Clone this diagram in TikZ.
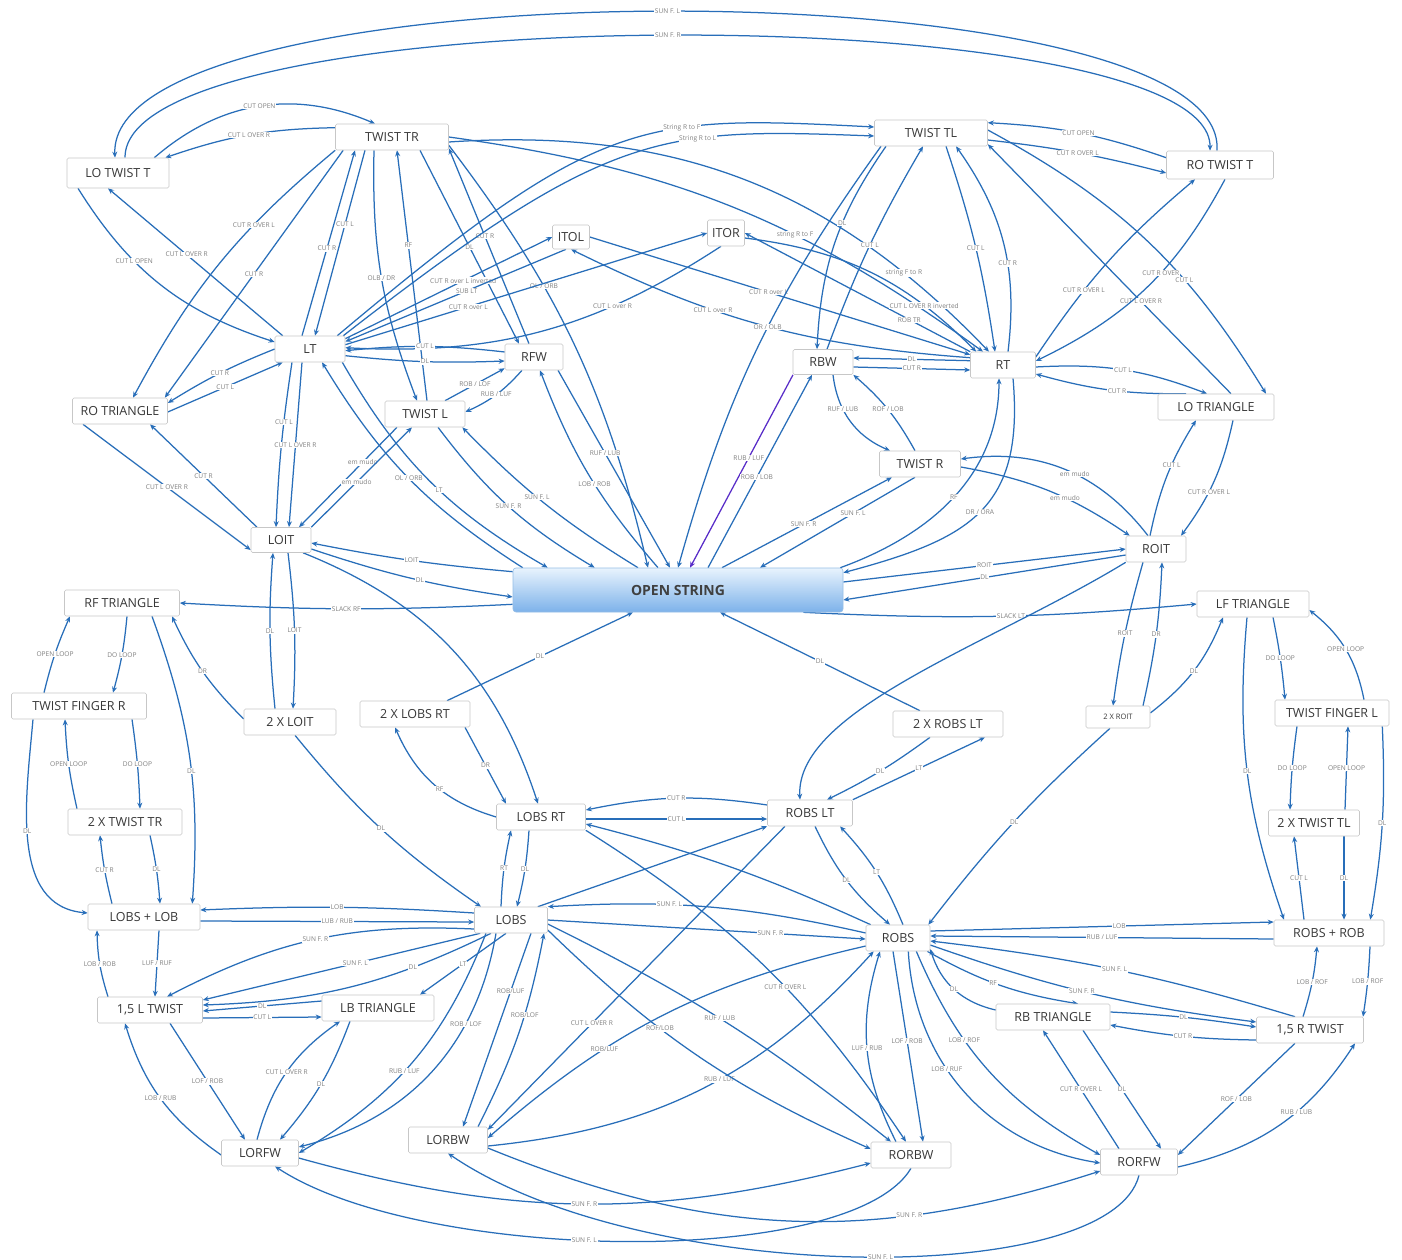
\documentclass[tikz,border=0pt]{standalone}
\usepackage{fontspec}
\usetikzlibrary{arrows.meta}
\newfontfamily\osans{Open Sans}
\newcommand\ndfont{\osans\fontsize{12.5}{13}\selectfont}
\newcommand\smfont{\osans\fontsize{7.5}{8}\selectfont}
\newcommand\lbfont{\osans\fontsize{6.6}{7}\selectfont}
\newcommand\osfont{\osans\bfseries\fontsize{14}{15}\selectfont}
\definecolor{eblue}{RGB}{40,110,185}
\definecolor{purp}{RGB}{88,44,200}
\definecolor{ostop}{RGB}{232,243,253}
\definecolor{osbot}{RGB}{125,178,234}
\definecolor{osedge}{RGB}{150,190,230}
\pgfdeclarelayer{bgfill}
\pgfdeclarelayer{edges}
\pgfsetlayers{bgfill,edges,main}
\tikzset{
 nd/.style={draw=black!22, line width=0.6pt, fill=white, rounded corners=1.5pt, font=\ndfont, text=black!78, inner sep=0pt, minimum height=26pt},
 osn/.style={draw=osedge, line width=0.6pt, rounded corners=3pt, top color=ostop, bottom color=osbot, minimum width=330pt, minimum height=44pt, font=\osfont, text=black!75, inner sep=0pt},
 e/.style={draw=eblue, line width=1.25pt, -{Stealth[length=6pt,width=5pt]}},
 l/.style={font=\lbfont, text=black!50, fill=white, inner sep=0.7pt},
}
\begin{document}
\begin{tikzpicture}[x=1pt,y=1pt]
\useasboundingbox (0,0) rectangle (1402,-1260);
\begin{pgfonlayer}{bgfill}
\fill[white] (0,0) rectangle (1402,-1260);
\end{pgfonlayer}
% nodes
\node[nd,minimum width=102pt,minimum height=30pt] (lott) at (118,-173) {LO TWIST T};
\node[nd,minimum width=113pt] (twtr) at (392,-137) {TWIST TR};
\node[nd,minimum width=113pt] (twtl) at (931,-133) {TWIST TL};
\node[nd,minimum width=107pt,minimum height=28pt] (rott) at (1220,-165) {RO TWIST T};
\node[nd,minimum width=37pt,minimum height=24pt] (itol) at (571,-237) {ITOL};
\node[nd,minimum width=37pt] (itor) at (726,-233) {ITOR};
\node[nd,minimum width=70pt] (lt) at (310,-349) {LT};
\node[nd,minimum width=58pt] (rfw) at (534,-357) {RFW};
\node[nd,minimum width=60pt,minimum height=25pt] (rbw) at (823,-362) {RBW};
\node[nd,minimum width=65pt] (rt) at (1003,-365) {RT};
\node[nd,minimum width=95pt] (rotri) at (120,-411) {RO TRIANGLE};
\node[nd,minimum width=116pt] (lotri) at (1216,-407) {LO TRIANGLE};
\node[nd,minimum width=80pt] (twl) at (425,-414) {TWIST L};
\node[nd,minimum width=81pt] (twr) at (920,-464) {TWIST R};
\node[nd,minimum width=60pt,minimum height=25pt] (loit) at (281,-540) {LOIT};
\node[nd,minimum width=60pt] (roit) at (1156,-549) {ROIT};
\node[osn] (os) at (678,-590) {OPEN STRING};
\node[nd,minimum width=115pt] (rftri) at (122,-603) {RF TRIANGLE};
\node[nd,minimum width=112pt] (lftri) at (1253,-604) {LF TRIANGLE};
\node[nd,minimum width=135pt] (twfr) at (79,-706) {TWIST FINGER R};
\node[nd,minimum width=92pt] (x2loit) at (290,-722) {2 X LOIT};
\node[nd,minimum width=110pt] (x2lobsrt) at (415,-714) {2 X LOBS RT};
\node[nd,minimum width=110pt] (x2robslt) at (948,-724) {2 X ROBS LT};
\node[nd,minimum width=64pt,minimum height=22pt,font=\smfont] (x2roit) at (1118,-717) {2 X ROIT};
\node[nd,minimum width=114pt] (twfl) at (1332,-713) {TWIST FINGER L};
\node[nd,minimum width=89pt] (lobsrt) at (541,-817) {LOBS RT};
\node[nd,minimum width=85pt] (robslt) at (810,-813) {ROBS LT};
\node[nd,minimum width=114pt] (x2twtr) at (125,-822) {2 X TWIST TR};
\node[nd,minimum width=91pt] (x2twtl) at (1314,-823) {2 X TWIST TL};
\node[nd,minimum width=112pt] (lobslob) at (144,-917) {LOBS + LOB};
\node[nd,minimum width=73pt] (lobs) at (511,-920) {LOBS};
\node[nd,minimum width=64pt] (robs) at (898,-938) {ROBS};
\node[nd,minimum width=110pt] (robsrob) at (1329,-933) {ROBS + ROB};
\node[nd,minimum width=105pt] (ltw) at (150,-1010) {1,5 L TWIST};
\node[nd,minimum width=112pt] (lbtri) at (378,-1008) {LB TRIANGLE};
\node[nd,minimum width=114pt] (rbtri) at (1053,-1017) {RB TRIANGLE};
\node[nd,minimum width=107pt] (rtw) at (1310,-1030) {1,5 R TWIST};
\node[nd,minimum width=77pt] (lorfw) at (260,-1153) {LORFW};
\node[nd,minimum width=79pt] (lorbw) at (448,-1140) {LORBW};
\node[nd,minimum width=80pt] (rorbw) at (911,-1155) {RORBW};
\node[nd,minimum width=77pt] (rorfw) at (1139,-1162) {RORFW};

\begin{pgfonlayer}{edges}
% top arcs
\draw[e] ([xshift=-3pt]rott.north) .. controls (1230,36) and (106,36) .. ([xshift=-3pt]lott.north) node[l,pos=0.5]{SUN F. L};
\draw[e] ([xshift=7pt]lott.north) .. controls (124,4) and (1212,4) .. ([xshift=-10pt]rott.north) node[l,pos=0.5]{SUN F. R};
\draw[e] ([xshift=-15pt]lott.north east) to[bend left=32] node[l]{CUT OPEN} ([xshift=-17pt]twtr.north);
\draw[e] ([yshift=-4pt]twtr.north west) to[bend right=9] node[l]{CUT L OVER R} ([xshift=-4pt]lott.north east);
\draw[e] ([yshift=-7pt]rott.north west) to[bend right=8] node[l]{CUT OPEN} ([yshift=-3pt]twtl.north east);
\draw[e] ([yshift=-7pt]twtl.east) to[bend left=4] node[l]{CUT R OVER L} ([yshift=-8pt]rott.west);
\draw[e] ([xshift=-40pt]lott.south) to[bend right=20] node[l,pos=0.35]{CUT L OPEN} ([yshift=7pt]lt.west);
\draw[e] ([xshift=8pt]lt.north west) -- node[l,pos=0.55]{CUT L OVER R} ([xshift=-10pt]lott.south);
\draw[e] (twtr.south west) to[bend right=11] node[l,pos=0.33]{CUT R OVER L} ([xshift=13pt]rotri.north);
\draw[e] ([xshift=8pt]twtr.south west) -- node[l]{CUT R} ([xshift=-3pt]rotri.north east);
\draw[e] (lt.west) to[bend right=5] node[l]{CUT R} ([yshift=8pt]rotri.east);
\draw[e] ([yshift=-1pt]rotri.east) -- node[l]{CUT L} ([xshift=8pt]lt.south west);
\draw[e] ([xshift=-27pt]twtr.south) -- node[l,pos=0.4]{CUT L} ([xshift=5pt]lt.north);
\draw[e] ([xshift=-8pt]lt.north) -- node[l,pos=0.47]{CUT R} ([xshift=-37pt]twtr.south);
\draw[e] ([xshift=-18pt]twtr.south) to[bend right=11] node[l]{OLB / DR} ([xshift=-8pt]twl.north);
\draw[e] ([xshift=2pt]twl.north) -- node[l,pos=0.62]{RF} ([xshift=5pt]twtr.south);
\draw[e] ([xshift=28pt]twtr.south) -- node[l]{DL} ([xshift=-15pt]rfw.north);
\draw[e] ([xshift=-5pt]rfw.north) -- node[l,pos=0.55]{CUT R} ([yshift=2pt]twtr.south east);
\draw[e] ([yshift=5pt]twtr.south east) to[bend left=12] node[l,pos=0.35]{OL / ORB} ([xshift=-30pt]os.north);
\draw[e] ([xshift=-8pt]lt.north east) .. controls (600,-115) and (640,-115) .. ([yshift=6pt]twtl.west) node[l,pos=0.65]{String R to F};
\draw[e] ([xshift=-2pt]lt.north east) .. controls (610,-128) and (660,-128) .. ([yshift=-3pt]twtl.west) node[l,pos=0.66]{String R to L};
\draw[e] (twtr.east) to[bend left=14] node[l,pos=0.63]{string R to F} ([xshift=-20pt]rt.north);
\draw[e] ([yshift=-5pt]twtr.east) to[bend left=25] node[l,pos=0.82]{string F to R} ([xshift=-14pt]rt.north);
% ITOL / ITOR
\draw[e] ([yshift=-3pt]lt.north east) -- node[l,pos=0.57]{CUT R over L inverted} (itol.west);
\draw[e] ([xshift=-5pt]itol.south) -- node[l,pos=0.45]{SUB LT} ([yshift=-6pt]lt.north east);
\draw[e] ([yshift=-9pt]lt.north east) -- node[l,pos=0.34]{CUT R over L} (itor.west);
\draw[e] ([xshift=-5pt]itor.south) to[bend left=18] node[l,pos=0.3]{CUT L over R} ([yshift=-12pt]lt.north east);
\draw[e] (itol.east) -- node[l,pos=0.47]{CUT R over L} ([yshift=-3pt]rt.north west);
\draw[e] ([yshift=-6pt]rt.north west) to[bend left=11] node[l,pos=0.64]{CUT L over R} (itol.south);
\draw[e] (rt.north west) -- node[l,pos=0.27]{ROB TR} (itor.east);
\draw[e] ([yshift=-5pt]itor.east) to[bend left=19] node[l,pos=0.75]{CUT L OVER R inverted} ([xshift=6pt]rt.north west);
% TWIST TL area
\draw[e] ([xshift=-45pt]twtl.south) to[bend right=16] node[l,pos=0.4]{DL} ([xshift=-6pt]rbw.north);
\draw[e] ([xshift=4pt]rbw.north) to[bend left=5] node[l]{CUT L} ([xshift=-8pt]twtl.south);
\draw[e] ([xshift=-50pt]twtl.south) to[bend right=10] node[l,pos=0.45]{OR / OLB} (os.north);
\draw[e,draw=purp] ([xshift=-30pt]rbw.south) -- node[l,pos=0.43]{RUB / LUF} ([xshift=12pt]os.north);
\draw[e] ([xshift=30pt]os.north) -- node[l,pos=0.47]{ROB / LOB} ([xshift=-11pt]rbw.south);
\draw[e] ([xshift=15pt]twtl.south) to[bend left=5] node[l]{CUT L} ([xshift=-8pt]rt.north);
\draw[e] ([xshift=5pt]rt.north) to[bend right=21] node[l,pos=0.4]{CUT R} ([xshift=25pt]twtl.south);
\draw[e] ([xshift=15pt]lotri.north) -- node[l,pos=0.37]{CUT L OVER R} ([yshift=2pt]twtl.south east);
\draw[e] ([yshift=3pt]twtl.east) to[bend left=15] node[l,pos=0.65]{CUT L} ([xshift=50pt]lotri.north);
\draw[e] ([yshift=8pt]rt.east) to[bend left=8] node[l,pos=0.33]{CUT R OVER L} ([xshift=-25pt]rott.south);
\draw[e] ([xshift=5pt]rott.south) to[bend left=18] node[l,pos=0.42]{CUT R OVER} ([yshift=4pt]rt.east);
\draw[e] ([yshift=-2pt]rt.east) to[bend left=12] node[l]{CUT L} ([xshift=-9pt]lotri.north);
\draw[e] ([xshift=-30pt]lotri.north) to[bend left=8] node[l,pos=0.45]{CUT R} ([yshift=-9pt]rt.east);
\draw[e] ([yshift=-9pt]rt.north west) -- node[l]{DL} ([yshift=4pt]rbw.east);
\draw[e] ([yshift=-5pt]rbw.east) -- node[l]{CUT R} ([yshift=-5pt]rt.west);
\draw[e] ([xshift=-6pt]roit.north) to[bend left=10] node[l,pos=0.6]{CUT L} ([xshift=-20pt]lotri.south);
\draw[e] ([xshift=17pt]lotri.south) to[bend left=12] node[l,pos=0.6]{CUT R OVER L} ([xshift=25pt]roit.north);
\draw[e] ([xshift=-8pt]roit.north) to[bend right=30] node[l,pos=0.45]{em mudo} ([yshift=5pt]twr.east);
\draw[e] ([yshift=-3pt]twr.east) to[bend left=12] node[l,pos=0.6]{em mudo} ([xshift=4pt]roit.north west);
\draw[e] ([xshift=-3pt]os.north east) to[out=20,in=-90] node[l]{RF} ([xshift=-4pt]rt.south);
\draw[e] ([xshift=10pt]rt.south) to[out=-85,in=15,looseness=1.3] node[l]{DR / ORA} ([yshift=-5pt]os.north east);
\draw[e] ([xshift=44pt]os.north) -- node[l,pos=0.48]{SUN F. R} ([xshift=-28pt]twr.south);
\draw[e] ([xshift=-5pt]twr.south) -- node[l,pos=0.4]{SUN F. L} ([xshift=82pt]os.north);
\draw[e] ([xshift=10pt]rbw.south) to[bend right=30] node[l,pos=0.35]{RUF / LUB} ([xshift=-30pt]twr.north);
\draw[e] ([xshift=-5pt]twr.north) to[bend right=10] node[l]{ROF / LOB} (rbw.south east);
% RFW / LT / TWIST L
\draw[e] ([xshift=-20pt]os.north) to[bend left=10] node[l,pos=0.45]{LOB / ROB} ([xshift=6pt]rfw.south);
\draw[e] ([xshift=24pt]rfw.south) -- node[l,pos=0.42]{RUF / LUB} ([xshift=-8pt]os.north);
\draw[e] ([yshift=5pt]rfw.west) to[bend right=6] node[l]{CUT L} ([yshift=-15pt]lt.north east);
\draw[e] ([yshift=-20pt]lt.north east) to[bend right=4] node[l]{DL} ([yshift=-4pt]rfw.west);
\draw[e] ([xshift=20pt]twl.north) -- node[l]{ROB / LOF} ([yshift=2pt]rfw.south west);
\draw[e] ([xshift=-12pt]rfw.south) to[bend left=12] node[l]{RUB / LUF} ([yshift=2pt]twl.east);
\draw[e] ([xshift=10pt]os.north west) to[bend left=13] node[l,pos=0.5]{OL / ORB} ([xshift=12pt]lt.south);
\draw[e] ([xshift=-3pt]lt.south east) to[bend right=15] node[l,pos=0.55]{LT} ([xshift=35pt]os.north west);
\draw[e] ([xshift=13pt]twl.south) to[bend right=11] node[l]{SUN F. R} ([xshift=82pt]os.north west);
\draw[e] ([xshift=-40pt]os.north) to[bend left=7] node[l,pos=0.55]{SUN F. L} ([xshift=-3pt]twl.south east);
% LOIT / ROIT
\draw[e] ([yshift=-4pt]os.north west) to[bend left=3] node[l]{LOIT} ([yshift=-3pt]loit.east);
\draw[e] ([yshift=-9pt]loit.east) to[bend right=5] node[l,pos=0.55]{DL} ([yshift=-7pt]os.west);
\draw[e] ([yshift=8pt]os.south west) to[bend left=3] node[l]{SLACK RF} (rftri.east);
\draw[e] ([xshift=-40pt]os.south east) to[bend right=4] node[l,pos=0.53]{SLACK LT} (lftri.west);
\draw[e] ([yshift=8pt]os.east) -- node[l]{ROIT} (roit.west);
\draw[e] ([yshift=-6pt]roit.west) -- node[l]{DL} ([yshift=-10pt]os.east);
\draw[e] ([xshift=-37pt]rotri.south) -- node[l]{CUT L OVER R} ([yshift=-10pt]loit.west);
\draw[e] ([xshift=-24pt]loit.north) -- node[l]{CUT R} ([xshift=30pt]rotri.south);
\draw[e] ([xshift=-18pt]lt.south) to[bend right=3] node[l,pos=0.35]{CUT L} ([xshift=-5pt]loit.north);
\draw[e] ([xshift=-8pt]lt.south) -- node[l,pos=0.5]{CUT L OVER R} ([xshift=8pt]loit.north);
\draw[e] ([xshift=-28pt]twl.south) -- node[l,pos=0.35]{em mudo} ([xshift=18pt]loit.north);
\draw[e] (loit.north east) -- node[l,pos=0.45]{em mudo} ([xshift=-13pt]twl.south);
\draw[e] ([xshift=22pt]loit.south) to[bend left=25] ([xshift=-3pt]lobsrt.north);
\draw[e] ([xshift=-15pt]x2loit.north) to[bend left=5] node[l]{DL} ([xshift=-8pt]loit.south);
\draw[e] ([xshift=7pt]loit.south) to[bend left=5] node[l]{LOIT} ([xshift=3pt]x2loit.north);
\draw[e] ([yshift=3pt]x2loit.west) to[bend left=10] node[l]{DR} ([xshift=50pt]rftri.south);
% left column
\draw[e] ([xshift=-35pt]twfr.north) to[bend left=5] node[l]{OPEN LOOP} ([xshift=-52pt]rftri.south);
\draw[e] ([xshift=5pt]rftri.south) to[bend left=5] node[l]{DO LOOP} ([xshift=34pt]twfr.north);
\draw[e] ([xshift=-48pt]x2twtr.north) to[bend left=5] node[l]{OPEN LOOP} ([xshift=-14pt]twfr.south);
\draw[e] ([xshift=53pt]twfr.south) to[bend left=3] node[l]{DO LOOP} ([xshift=15pt]x2twtr.north);
\draw[e] ([xshift=-46pt]twfr.south) to[out=-95,in=175] node[l,pos=0.45]{DL} ([yshift=4pt]lobslob.west);
\draw[e] ([xshift=30pt]rftri.south) to[bend left=12] node[l,pos=0.55]{DL} ([xshift=-8pt]lobslob.north east);
\draw[e] ([xshift=-32pt]lobslob.north) to[bend left=4] node[l]{CUT R} ([xshift=-25pt]x2twtr.south);
\draw[e] ([xshift=25pt]x2twtr.south) to[bend left=4] node[l]{DL} ([xshift=16pt]lobslob.north);
\draw[e] ([yshift=7pt]lobs.west) to[bend right=3] node[l]{LOB} ([yshift=7pt]lobslob.east);
\draw[e] ([yshift=-4pt]lobslob.east) -- node[l]{LUB / RUB} ([yshift=-2pt]lobs.west);
\draw[e] ([xshift=-42pt]ltw.north) to[bend left=8] node[l]{LOB / ROB} ([xshift=-47pt]lobslob.south);
\draw[e] ([xshift=15pt]lobslob.south) -- node[l]{LUF / RUF} ([xshift=5pt]ltw.north);
\draw[e] ([yshift=-9pt]lobs.west) to[bend right=15] node[l]{SUN F. R} ([xshift=17pt]ltw.north);
\draw[e] ([xshift=6pt]lobs.south west) -- node[l,pos=0.45]{SUN F. L} ([yshift=10pt]ltw.east);
\draw[e] ([xshift=-20pt]lobs.south) to[bend left=12] node[l,pos=0.27]{DL} ([yshift=5pt]ltw.east);
\draw[e] ([yshift=7pt]lbtri.west) -- node[l]{DL} ([yshift=-1pt]ltw.east);
\draw[e] ([yshift=-8pt]ltw.east) -- node[l]{CUT L} ([yshift=-9pt]lbtri.west);
\draw[e] ([xshift=-5pt]lobs.south) -- node[l]{LT} ([xshift=42pt]lbtri.north);
\draw[e] ([xshift=20pt]ltw.south) -- node[l]{LOF / ROB} ([xshift=-15pt]lorfw.north);
\draw[e] ([yshift=-2pt]lorfw.west) to[bend left=19] node[l]{LOB / RUB} ([xshift=-25pt]ltw.south);
\draw[e] ([xshift=-3pt]lorfw.north) to[bend left=20] node[l]{CUT L OVER R} ([xshift=-38pt]lbtri.south);
\draw[e] ([xshift=-28pt]lbtri.south) to[bend left=10] node[l]{DL} ([xshift=20pt]lorfw.north);
\draw[e] ([xshift=-15pt]lobs.south) to[bend left=33] node[l,pos=0.3]{ROB / LOF} ([yshift=6pt]lorfw.east);
\draw[e] ([xshift=-25pt]lobs.south) to[bend left=19] node[l,pos=0.55]{RUB / LUF} (lorfw.east);
\draw[e] ([xshift=20pt]lobs.south) -- node[l,pos=0.3]{ROB/LUF} ([xshift=15pt]lorbw.north);
\draw[e] ([xshift=30pt]lorbw.north) to[bend right=8] node[l,pos=0.6]{ROB/LOF} ([xshift=33pt]lobs.south);
\draw[e] ([xshift=-25pt]robslt.south) -- node[l,pos=0.65]{CUT L OVER R} ([yshift=-3pt]lorbw.north east);
\draw[e] ([yshift=-8pt]robs.west) to[bend right=14] node[l,pos=0.67]{ROB/LUF} ([yshift=2pt]lorbw.east);
\draw[e] ([yshift=-6pt]lorbw.east) to[bend right=21] node[l,pos=0.55]{RUB / LUF} ([xshift=8pt]robs.south west);
\draw[e] ([yshift=-4pt]lobs.east) to[bend left=6] node[l,pos=0.48]{RUF / LUB} ([xshift=-20pt]rorbw.north);
\draw[e] ([yshift=-10pt]lobs.east) to[bend right=10] node[l,pos=0.37]{ROF/LOB} ([yshift=6pt]rorbw.west);
\draw[e] (lobsrt.south east) to[bend left=12] node[l,pos=0.57]{CUT R OVER L} ([xshift=-5pt]rorbw.north);
\draw[e] ([xshift=5pt]robs.north west) to[bend right=5] ([yshift=-7pt]lobsrt.east);
% LOBS RT / ROBS LT
\draw[e] ([yshift=8pt]robslt.west) to[bend right=10] node[l]{CUT R} ([yshift=7pt]lobsrt.east);
\draw[e] ([yshift=-2pt]lobsrt.east) -- node[l]{CUT L} ([yshift=-6pt]robslt.west);
\draw[e] ([xshift=-10pt]lobs.north) to[bend left=5] node[l]{RT} ([xshift=-30pt]lobsrt.south);
\draw[e] ([xshift=-12pt]lobsrt.south) to[bend left=5] node[l]{DL} ([xshift=6pt]lobs.north);
\draw[e] (lobsrt.west) to[bend left=25] node[l,pos=0.45]{RF} ([xshift=-20pt]x2lobsrt.south);
\draw[e] ([xshift=50pt]x2lobsrt.south) -- node[l]{DR} ([xshift=-35pt]lobsrt.north);
\draw[e] ([xshift=32pt]x2lobsrt.north) -- node[l]{DL} ([xshift=-45pt]os.south);
\draw[e] ([xshift=-28pt]x2robslt.north) -- node[l]{DL} ([xshift=42pt]os.south);
\draw[e] ([xshift=-18pt]x2robslt.south) to[bend left=5] node[l]{DL} ([xshift=17pt]robslt.north);
\draw[e] (robslt.north east) -- node[l]{LT} ([xshift=37pt]x2robslt.south);
\draw[e] (roit.south west) .. controls (990,-645) and (795,-710) .. ([xshift=-10pt]robslt.north);
\draw[e] ([xshift=5pt]robslt.south) to[bend right=12] node[l]{DL} ([xshift=-8pt]robs.north);
\draw[e] ([xshift=5pt]robs.north) to[bend right=10] node[l]{LT} ([xshift=30pt]robslt.south);
\draw[e] ([xshift=-10pt]lobs.north east) -- (robslt.south west);
\draw[e] ([yshift=5pt]robs.west) to[bend right=8] node[l,pos=0.63]{SUN F. L} (lobs.north east);
\draw[e] (lobs.east) -- node[l,pos=0.7]{SUN F. R} ([yshift=-1pt]robs.west);
% right side
\draw[e] ([yshift=7pt]robs.east) -- node[l,pos=0.55]{LOB} ([yshift=11pt]robsrob.west);
\draw[e] ([yshift=-6pt]robsrob.west) -- node[l]{RUB / LUF} ([yshift=2pt]robs.east);
\draw[e] ([xshift=-8pt]x2roit.south) to[bend right=5] node[l]{DL} ([xshift=-2pt]robs.north east);
\draw[e] ([xshift=-13pt]roit.south) to[bend right=4] node[l]{ROIT} ([xshift=-5pt]x2roit.north);
\draw[e] ([xshift=25pt]x2roit.north) to[bend right=5] node[l]{DR} ([xshift=6pt]roit.south);
\draw[e] ([yshift=4pt]x2roit.east) to[bend right=15] node[l]{DL} ([xshift=-30pt]lftri.south);
\draw[e] ([xshift=20pt]lftri.south) to[bend left=3] node[l]{DO LOOP} ([xshift=-47pt]twfl.north);
\draw[e] ([xshift=32pt]twfl.north) to[bend right=20] node[l]{OPEN LOOP} ([yshift=-6pt]lftri.east);
\draw[e] ([xshift=-35pt]twfl.south) to[bend right=3] node[l]{DO LOOP} ([xshift=-24pt]x2twtl.north);
\draw[e] ([xshift=31pt]x2twtl.north) -- node[l]{OPEN LOOP} ([xshift=16pt]twfl.south);
\draw[e] ([xshift=-6pt]lftri.south) to[bend right=12] node[l]{DL} ([xshift=-45pt]robsrob.north);
\draw[e] ([xshift=-7pt]twfl.south east) to[bend left=6] node[l]{DL} ([xshift=-14pt]robsrob.north east);
\draw[e] ([xshift=-25pt]robsrob.north) -- node[l]{CUT L} ([xshift=-20pt]x2twtl.south);
\draw[e] ([xshift=30pt]x2twtl.south) -- node[l]{DL} ([xshift=15pt]robsrob.north);
\draw[e] ([xshift=-7pt]rtw.north) to[bend right=6] node[l]{LOB / ROF} ([xshift=-12pt]robsrob.south);
\draw[e] ([xshift=41pt]robsrob.south) to[bend left=3] node[l]{LOB / ROF} ([xshift=53pt]rtw.north);
\draw[e] ([yshift=5pt]rbtri.east) to[bend left=3] node[l]{DL} ([yshift=3pt]rtw.west);
\draw[e] ([yshift=-10pt]rtw.west) to[bend left=5] node[l]{CUT R} ([yshift=-8pt]rbtri.east);
\draw[e] ([xshift=-15pt]rtw.north) to[bend right=5] node[l]{SUN F. L} ([yshift=-3pt]robs.east);
\draw[e] ([yshift=-7pt]robs.east) to[bend right=6] node[l,pos=0.47]{SUN F. R} ([yshift=8pt]rtw.west);
\draw[e] ([yshift=7pt]rbtri.west) to[bend left=30] node[l]{DL} ([yshift=-11pt]robs.east);
\draw[e] ([xshift=-3pt]robs.south east) to[bend right=10] node[l,pos=0.45]{RF} ([xshift=25pt]rbtri.north);
\draw[e] ([xshift=-14pt]robs.south east) to[bend right=19] node[l,pos=0.35]{LOB / ROF} ([yshift=7pt]rorfw.west);
\draw[e] ([xshift=-22pt]robs.south east) to[bend right=39] node[l,pos=0.4]{LOB / RUF} ([yshift=-1pt]rorfw.west);
\draw[e] ([xshift=-15pt]rorbw.north) to[bend left=22] node[l]{LUF / RUB} ([xshift=-18pt]robs.south);
\draw[e] ([xshift=-5pt]robs.south) -- node[l,pos=0.47]{LOF / ROB} ([xshift=12pt]rorbw.north);
\draw[e] ([xshift=-20pt]rorfw.north) -- node[l]{CUT R OVER L} ([xshift=-10pt]rbtri.south);
\draw[e] ([xshift=30pt]rbtri.south) -- node[l]{DL} ([xshift=22pt]rorfw.north);
\draw[e] ([xshift=-15pt]rtw.south) -- node[l]{ROF / LOB} ([yshift=7pt]rorfw.east);
\draw[e] ([yshift=-5pt]rorfw.east) to[bend right=22] node[l,pos=0.6]{RUB / LUB} ([xshift=45pt]rtw.south);
% bottom arcs
\draw[e] ([yshift=-5pt]lorfw.east) to[bend right=15] node[l]{SUN F. R} ([yshift=-8pt]rorbw.west);
\draw[e] (rorbw.south) .. controls (850,-1270) and (420,-1262) .. ([xshift=15pt]lorfw.south) node[l,pos=0.55]{SUN F. L};
\draw[e] ([yshift=-8pt]lorbw.east) to[bend right=20] node[l,pos=0.7]{SUN F. R} ([yshift=-9pt]rorfw.west);
\draw[e] (rorfw.south) .. controls (1110,-1290) and (640,-1285) .. (lorbw.south) node[l,pos=0.47]{SUN F. L};
\draw[e] ([xshift=5pt]x2loit.south) to[bend right=8] node[l]{DL} ([xshift=-30pt]lobs.north);
\end{pgfonlayer}
\end{tikzpicture}
\end{document}
